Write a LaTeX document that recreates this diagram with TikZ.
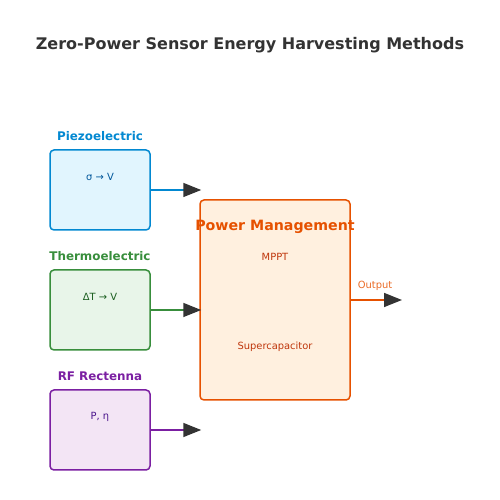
\documentclass[tikz,border=0pt]{standalone}
\usepackage{fontspec}
\setmainfont{DejaVu Sans}
\usetikzlibrary{arrows.meta}
\definecolor{titlec}{HTML}{333333}
\definecolor{blueS}{HTML}{0288D1}
\definecolor{blueF}{HTML}{E1F5FE}
\definecolor{blueT}{HTML}{01579B}
\definecolor{greenS}{HTML}{388E3C}
\definecolor{greenF}{HTML}{E8F5E9}
\definecolor{greenT}{HTML}{1B5E20}
\definecolor{purS}{HTML}{7B1FA2}
\definecolor{purF}{HTML}{F3E5F5}
\definecolor{purT}{HTML}{4A148C}
\definecolor{orS}{HTML}{E65100}
\definecolor{orF}{HTML}{FFF0DF}
\definecolor{orT}{HTML}{BF360C}
\definecolor{headc}{HTML}{333333}
\tikzset{
  srcbox/.style={draw, line width=1.5pt, rounded corners=4pt, minimum width=100pt, minimum height=80pt, inner sep=0pt},
  lbl/.style={font=\bfseries\fontsize{11.9}{13}\selectfont, inner sep=0pt},
  inner/.style={font=\fontsize{9.9}{11}\selectfont, inner sep=0pt},
  conn/.style={line width=1.5pt, shorten >=-2pt, -{Triangle[length=18pt,width=14pt,color=headc]}},
}
\begin{document}
\begin{tikzpicture}[x=1pt,y=1pt]
\useasboundingbox (0,0) rectangle (500,500);
\node[font=\bfseries\fontsize{16}{18}\selectfont, text=titlec, inner sep=0pt] (title) at (250,455) {Zero-Power Sensor Energy Harvesting Methods};

% sources
\node[srcbox, draw=blueS, fill=blueF] (pz) at (100,310) {};
\node[lbl, text=blueS] (pzl) at (100,364) {Piezoelectric};
\node[inner, text=blueT] (pzt) at (100,323) {σ → V};

\node[srcbox, draw=greenS, fill=greenF] (th) at (100,190) {};
\node[lbl, text=greenS] (thl) at (100,244) {Thermoelectric};
\node[inner, text=greenT] (tht) at (100,203) {ΔT → V};

\node[srcbox, draw=purS, fill=purF] (rf) at (100,70) {};
\node[lbl, text=purS] (rfl) at (100,124) {RF Rectenna};
\node[inner, text=purT] (rft) at (100,83) {P, η};

% power management
\node[draw=orS, fill=orF, line width=1.5pt, rounded corners=4pt, minimum width=150pt, minimum height=200pt, inner sep=0pt] (pm) at (275,200) {};
\node[font=\bfseries\fontsize{14.2}{16}\selectfont, text=orS, inner sep=0pt] (pmt) at (275,273) {Power Management};
\node[inner, text=orT] (mppt) at (275,243) {MPPT};
\node[inner, text=orT] (sc) at (275,153) {Supercapacitor};

% connectors
\draw[conn, draw=blueS] (pz.east) -- (pz.east -| pm.west);
\draw[conn, draw=greenS] (th.east) -- (th.east -| pm.west);
\draw[conn, draw=purS] (rf.east) -- (rf.east -| pm.west);
\coordinate (out) at (400,200);
\draw[conn, draw=orS] (pm.east) -- (out);
\node[inner, text=orS!85] (outl) at (375,214) {Output};
\end{tikzpicture}
\end{document}
